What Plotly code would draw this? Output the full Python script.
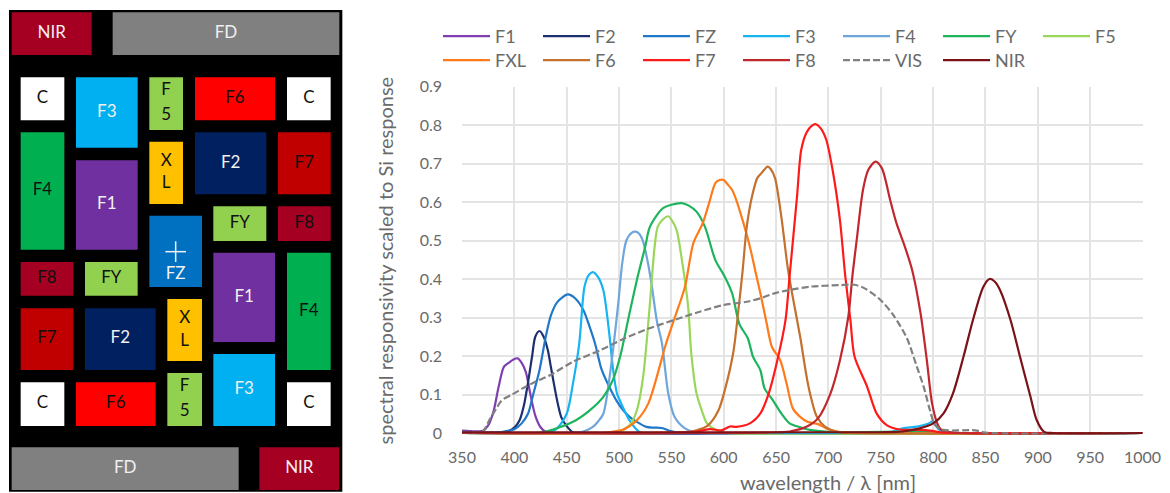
import plotly.graph_objects as go

# ---------- spectral data (wavelength nm, value) ----------
f1_x = [350,370,375,380,385,390,395,400,403,407,411,415,420,425,430,440,1000]
f1_y = [.006,.006,.02,.055,.12,.172,.183,.192,.194,.182,.158,.105,.045,.015,.003,0,0]
f2_x = [350,390,395,400,405,409,413,417,420,424,428,432,435,439,442,445,450,456,465,1000]
f2_y = [0,.002,.005,.014,.033,.07,.13,.2,.25,.265,.25,.215,.17,.11,.07,.04,.018,.002,0,0]
fz_x = [350,385,392,400,407,413,418,424,430,435,441,451,458,466,472,477,483,488,493,498,504,510,517,526,533,541,549,560,1000]
fz_y = [.003,.002,.005,.01,.025,.05,.1,.163,.25,.306,.34,.36,.35,.319,.275,.233,.168,.135,.107,.082,.059,.042,.029,.016,.014,.013,.005,.001,0]
f3_x = [350,430,440,450,456,462,467,471,475,480,485,491,494,498,502,510,520,530,700,760,771,785,795,800,805,815,1000]
f3_y = [0,0,.01,.05,.129,.233,.38,.41,.418,.405,.371,.25,.172,.103,.077,.033,.002,0,0,.003,.012,.017,.024,.03,.01,0,0]
f4_x = [350,455,465,475,480,485,491,499,503,507,512,516,520,523,527,531,536,541,547,553,563,575,1000]
f4_y = [0,0,.003,.016,.03,.05,.146,.33,.44,.50,.52,.523,.515,.497,.45,.388,.293,.233,.103,.042,.012,.001,0]
fy_x = [350,427,437,456,472,485,494,501,509,517,525,529,536,542,550,560,567,574,582,592,601,608,615,623,628,635,639,647,655,663,673,682,700,800,810,1000]
fy_y = [0,.002,.009,.029,.059,.094,.137,.198,.298,.397,.484,.532,.565,.584,.593,.597,.59,.575,.536,.449,.406,.363,.283,.246,.198,.163,.116,.085,.051,.025,.015,.008,.003,.003,0,0]
f5_x = [350,490,500,510,517,523,529,534,537,542,547,551,555,561,566,569,574,579,584,592,600,1000]
f5_y = [0,0,.003,.02,.059,.146,.32,.484,.536,.555,.563,.55,.527,.432,.328,.207,.103,.059,.025,.009,.001,0]
fxl_x = [350,470,490,504,517,528,537,544,553,563,571,580,586,592,596,600,604,608,612,618,625,630,635,641,646,654,660,666,673,680,690,698,708,720,1000]
fxl_y = [0,0,.002,.009,.033,.077,.155,.224,.298,.38,.493,.545,.597,.649,.657,.657,.645,.631,.605,.553,.484,.423,.363,.285,.224,.189,.129,.064,.042,.029,.023,.012,.004,.001,0]
f6_x = [350,560,574,585,595,601,609,614,618,622,627,632,636,642,645,649,655,661,665,673,681,689,697,708,720,1000]
f6_y = [0,.001,.007,.02,.059,.111,.207,.319,.42,.536,.614,.662,.675,.692,.685,.662,.562,.432,.367,.25,.12,.042,.016,.003,0,0]
f7_x = [350,550,574,587,598,606,612,625,635,643,652,659,663,670,674,679,684,688,693,698,704,711,716,721,725,737,746,756,768,787,797,810,820,900,1000]
f7_y = [0,.001,.004,.01,.007,.017,.016,.025,.051,.103,.198,.293,.41,.614,.735,.78,.798,.802,.79,.761,.683,.553,.41,.293,.198,.12,.051,.02,.009,.008,.006,.001,0,0,0]
f8_x = [350,640,663,679,690,702,711,719,723,727,733,738,745,751,759,765,773,780,788,794,799,804,808,820,1000]
f8_y = [0,.001,.004,.016,.038,.103,.189,.302,.41,.501,.631,.683,.705,.688,.605,.545,.484,.423,.311,.189,.077,.025,.008,.001,0]
vis_x = [350,365,370,376,382,388,398,408,420,434,456,482,504,526,552,577,599,622,635,650,666,682,711,725,735,750,762,775,784,791,797,802,810,840,850,1000]
vis_y = [.002,.002,.004,.033,.06,.085,.1,.116,.133,.15,.185,.215,.244,.269,.293,.315,.332,.341,.35,.364,.373,.38,.384,.385,.375,.345,.306,.246,.176,.12,.059,.02,.008,.007,.001,0]
nir_x = [350,750,771,787,800,810,819,829,838,848,854,859,864,874,883,893,899,906,915,1000]
nir_y = [.002,.002,.004,.012,.025,.051,.103,.198,.293,.38,.40,.393,.371,.293,.198,.094,.033,.003,0,0]

series_names = ["F1","F2","FZ","F3","F4","FY","F5","FXL","F6","F7","F8","VIS","NIR"]
series_x = [f1_x,f2_x,fz_x,f3_x,f4_x,fy_x,f5_x,fxl_x,f6_x,f7_x,f8_x,vis_x,nir_x]
series_y = [f1_y,f2_y,fz_y,f3_y,f4_y,fy_y,f5_y,fxl_y,f6_y,f7_y,f8_y,vis_y,nir_y]
series_colors = ["#7f3fb0","#1c2f6e","#1f78c8","#16b4f0","#6ea6dc","#1db45c","#9ad65a",
                 "#ff7a1a","#c4702e","#ff1a1a","#c0282e","#808080","#7a1218"]
legend_row = [1,1,1,1,1,1,1,2,2,2,2,2,2]

x_ticks = [350,400,450,500,550,600,650,700,750,800,850,900,950,1000]
y_ticks = [0,.1,.2,.3,.4,.5,.6,.7,.8,.9]
y_ticktext = ["0","0.1","0.2","0.3","0.4","0.5","0.6","0.7","0.8","0.9"]

# ---------- filter layout diagram ----------
cell_labels = ["NIR","FD","C","F3","F5v","F6","C","F4","F1","XL","F2","F7","FY","F8","FZ",
               "F8","FY","F1","F4","F7","F2","XL","F3","F5v","C","F6","C","FD","NIR"]
cell_x0 = [35,338,62,228,448,585,861,62,228,448,585,834,640,834,448,62,255,640,861,62,255,502,640,502,62,228,861,35,778]
cell_x1 = [275,1018,193,413,549,825,992,193,413,549,799,992,799,992,606,220,413,825,992,220,467,606,825,606,193,467,992,716,1018]
cell_y0 = [37,37,232,232,232,232,232,397,481,425,397,397,619,619,647,786,786,758,758,925,925,897,1062,1119,1147,1147,1147,1342,1342]
cell_y1 = [165,165,361,443,390,361,361,749,749,612,583,583,723,723,861,887,887,1026,1110,1110,1110,1083,1278,1278,1278,1278,1278,1470,1470]
cell_colors = {"NIR":"#a50021","FD":"#808080","C":"#ffffff","F3":"#00b0f0","F5v":"#92d050","F6":"#ff0000",
               "F4":"#00b050","F1":"#7030a0","XL":"#ffc000","F2":"#002060","F7":"#c00000","FY":"#92d050",
               "F8":"#a50021","FZ":"#0070c0"}
white_text = {"NIR","FD","F3","F1","F2","FZ"}
panel_box = (27,1027,30,1475)

fig = go.Figure()

def rect_trace(x0,x1,y0,y1,color):
    return go.Scatter(x=[x0,x1,x1,x0,x0], y=[y0,y0,y1,y1,y0], mode="lines", fill="toself",
                      fillcolor=color, line=dict(width=0), xaxis="x2", yaxis="y2",
                      showlegend=False, hoverinfo="skip")

fig.add_trace(rect_trace(panel_box[0],panel_box[1],panel_box[2],panel_box[3],"#000000"))
tx,ty,tt,tc = [],[],[],[]
for lab,a,b,c,d in zip(cell_labels,cell_x0,cell_x1,cell_y0,cell_y1):
    fig.add_trace(rect_trace(a,b,c,d,cell_colors[lab]))
    cx,cy = (a+b)/2,(c+d)/2
    col = "#f0f0f0" if lab in white_text else "#111111"
    if lab == "F5v":
        parts = [("F",cy-38),("5",cy+36)]
    elif lab == "XL":
        parts = [("X",cy-34),("L",cy+34)]
    elif lab == "FZ":
        parts = [("FZ",cy+71)]
        fig.add_trace(go.Scatter(x=[cx-31,cx+31,None,cx,cx], y=[cy+1,cy+1,None,cy-30,cy+32], mode="lines",
                                 line=dict(color="#f0f0f0",width=1.5), xaxis="x2", yaxis="y2",
                                 showlegend=False, hoverinfo="skip"))
    else:
        parts = [(lab,cy)]
    for t,y in parts:
        tx.append(cx); ty.append(y); tt.append(t); tc.append(col)
fig.add_trace(go.Scatter(x=tx, y=ty, text=tt, mode="text", xaxis="x2", yaxis="y2",
    showlegend=False, hoverinfo="skip",
    textfont=dict(family="Lato", size=17, color=tc), textposition="middle center"))

for name,xs,ys,col,row in zip(series_names,series_x,series_y,series_colors,legend_row):
    fig.add_trace(go.Scatter(x=xs, y=ys, name=name, mode="lines",
        legend="legend" if row==1 else "legend2",
        line=dict(color=col, width=2.2, shape="spline", smoothing=0.8,
                  dash="7px,3px" if name=="VIS" else "solid"),
        xaxis="x", yaxis="y"))

W,H = 1170,493
grid = "#e4e4e4"
txt = "#6a6a6a"
leg = dict(orientation="h", x=438/W, xanchor="left", yanchor="top",
           itemwidth=47, entrywidth=38, entrywidthmode="pixels",
           font=dict(size=18, family="Lato", color=txt), bgcolor="rgba(0,0,0,0)")
fig.update_layout(
    width=W, height=H, margin=dict(l=0,r=0,t=0,b=0), paper_bgcolor="white", plot_bgcolor="white",
    font=dict(family="Lato", color=txt, size=16),
    xaxis=dict(domain=[462/W,1142.5/W], range=[350,1000], tickvals=x_ticks, showgrid=True,
               gridcolor=grid, gridwidth=1.5, zeroline=False, showline=False, ticks="",
               ticklabelstandoff=11, automargin=False, tickfont=dict(size=16)),
    yaxis=dict(domain=[1-434.7/H,1-86.5/H], range=[-.0044,.9], tickvals=y_ticks, ticktext=y_ticktext,
               showgrid=True, gridcolor=grid, gridwidth=1.5, zeroline=False, showline=False, ticks="",
               ticklabelstandoff=19, automargin=False,
               title=dict(text="spectral responsivity scaled to Si response", standoff=20, font=dict(size=20)),
               tickfont=dict(size=16)),
    xaxis2=dict(domain=[0,350/W], range=[0,1050], visible=False, anchor="y2"),
    yaxis2=dict(domain=[0,1], range=[1479,0], visible=False, anchor="x2"),
    legend=dict(leg, y=1-18/H),
    legend2=dict(leg, y=1-42/H),
    annotations=[dict(text="wavelength / λ [nm]", xref="paper", yref="paper", x=828/W, y=1-482/H,
                      xanchor="center", yanchor="middle", showarrow=False, font=dict(size=20, color=txt, family="Lato"))],
)
fig.write_html("out.html", config={"displayModeBar":False}, post_script="document.body.style.margin='0';")
